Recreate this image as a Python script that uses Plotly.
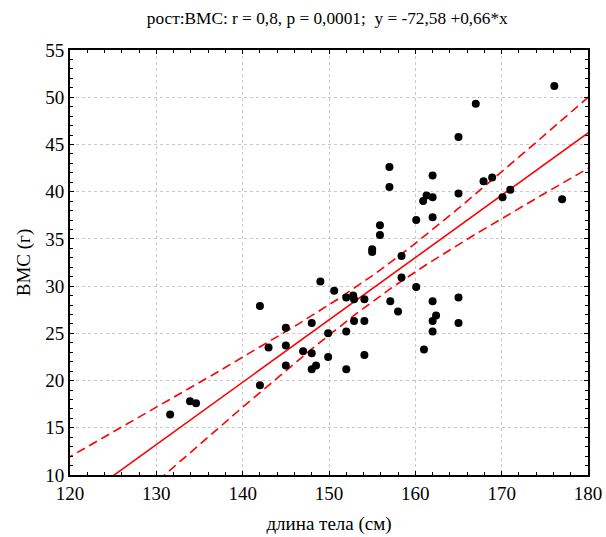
import numpy as np
import plotly.graph_objects as go

# body length (cm)
length_cm = [131.6, 133.9, 134.6, 142.0, 142.0, 143.0, 145.0, 145.0, 145.0, 147.0,
             148.0, 148.0, 148.0, 148.5, 149.0, 149.9, 149.9, 150.6,
             158.4, 158.4, 152.0, 152.8, 152.9, 154.1, 160.1, 157.1, 158.0, 162.0,
             165.0, 152.9, 154.1, 152.0, 152.0, 154.1, 161.0, 162.0, 162.4, 162.0, 165.0,
             176.1, 167.0, 165.0, 157.0, 157.0, 162.0, 167.9, 168.9, 165.0, 170.1,
             171.0, 177.0, 161.3, 160.9, 162.0, 162.0, 160.1, 155.9, 155.9, 155.0, 155.0]
# BMC (g)
bmc_g = [16.4, 17.8, 17.6, 27.9, 19.5, 23.5, 25.6, 23.7, 21.6, 23.1,
         26.1, 22.9, 21.2, 21.6, 30.5, 25.0, 22.5, 29.5,
         33.2, 30.9, 28.8, 29.0, 28.6, 28.6, 29.9, 28.4, 27.3, 28.4,
         28.8, 26.3, 26.3, 25.2, 21.2, 22.7, 23.3, 26.3, 26.9, 25.2, 26.1,
         51.2, 49.3, 45.8, 42.6, 40.5, 41.7, 41.1, 41.5, 39.8, 39.4,
         40.2, 39.2, 39.6, 39.0, 39.4, 37.3, 37.0, 36.45, 35.4, 33.9, 33.6]

x_ticks = [120, 130, 140, 150, 160, 170, 180]
y_ticks = [10, 15, 20, 25, 30, 35, 40, 45, 50, 55]

# regression reported in the title
intercept = -72.58
slope = 0.66

x = np.array(length_cm)
y = np.array(bmc_g)
n = len(x)
resid = y - (intercept + slope * x)
s = np.sqrt(np.sum(resid ** 2) / (n - 2))
xbar = x.mean()
sxx = np.sum((x - xbar) ** 2)
t = 2.0

xs = np.linspace(118, 182, 200)
fit = intercept + slope * xs
half = t * s * np.sqrt(1 / n + (xs - xbar) ** 2 / sxx)

fig = go.Figure()
fig.add_trace(go.Scatter(x=xs, y=fit, mode="lines",
                         line=dict(color="#ff0000", width=1.6), hoverinfo="skip"))
fig.add_trace(go.Scatter(x=xs, y=fit + half, mode="lines",
                         line=dict(color="#ff0000", width=1.6, dash="9px,5px"), hoverinfo="skip"))
fig.add_trace(go.Scatter(x=xs, y=fit - half, mode="lines",
                         line=dict(color="#ff0000", width=1.6, dash="9px,5px"), hoverinfo="skip"))
fig.add_trace(go.Scatter(x=length_cm, y=bmc_g, mode="markers",
                         marker=dict(color="black", size=8)))

font = "Liberation Serif, Times New Roman, serif"
axis_common = dict(
    showline=True, linecolor="black", linewidth=2, mirror="allticks",
    ticks="inside", ticklen=4, tickcolor="black", tickwidth=1,
    showgrid=True, gridcolor="#c8c8c8", griddash="dot", gridwidth=1,
    zeroline=False, automargin=False,
    tickfont=dict(family=font, size=19, color="black"),
)
fig.update_xaxes(range=[120, 180], tickvals=x_ticks,
                 minor=dict(dtick=2, ticks="inside", ticklen=3, tickcolor="black", showgrid=False),
                 title=dict(text="длина тела (см)", font=dict(family=font, size=19, color="black"), standoff=14),
                 **axis_common)
fig.update_yaxes(range=[10, 55], tickvals=y_ticks,
                 minor=dict(dtick=1, ticks="inside", ticklen=3, tickcolor="black", showgrid=False),
                 title=dict(text="BMC (г)", font=dict(family=font, size=19, color="black"), standoff=10),
                 **axis_common)

fig.update_layout(
    width=606, height=537,
    margin=dict(l=70, r=18, t=50, b=62),
    paper_bgcolor="white", plot_bgcolor="white",
    showlegend=False,
    title=dict(text="рост:BMC: r = 0,8, p = 0,0001;  y = -72,58 +0,66*x",
               x=0.54, xanchor="center", y=0.966, yanchor="middle",
               font=dict(family=font, size=17.3, color="black")),
)

fig.write_html("out.html",
               config={"displayModeBar": False},
               post_script="document.body.style.margin='0';document.body.style.overflow='hidden';")
